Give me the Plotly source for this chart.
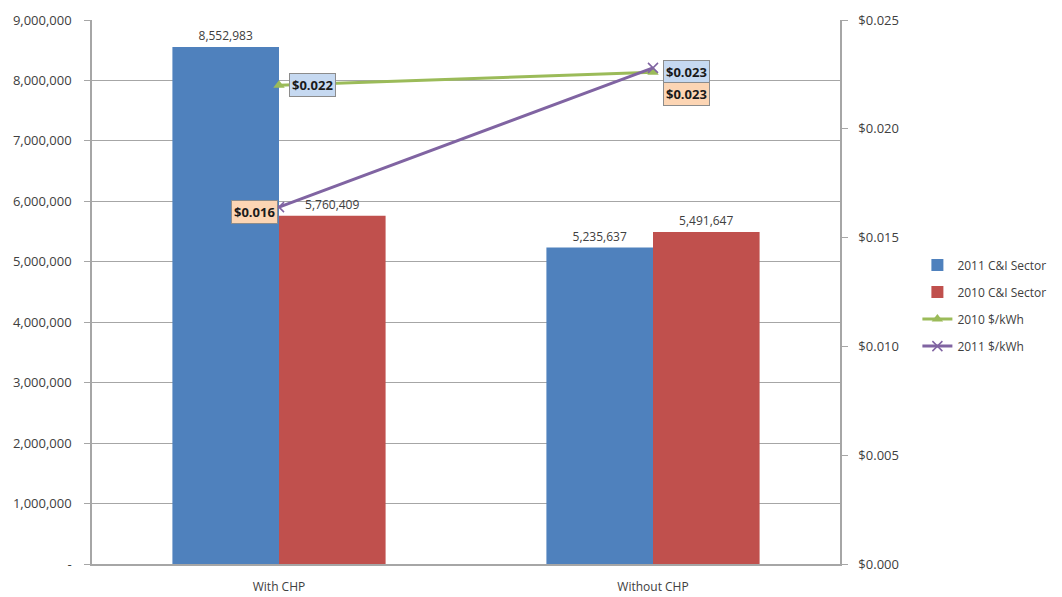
import plotly.graph_objects as go

categories = ["With CHP", "Without CHP"]
sector_2011 = [8552983, 5235637]
sector_2010 = [5760409, 5491647]
rate_2010 = [0.0220, 0.0226]
rate_2011 = [0.0164, 0.0228]

left_ticks = list(range(0, 9000001, 1000000))
left_ticktext = ["-"] + [f"{v:,}" for v in left_ticks[1:]]

FONT = "Open Sans"
TXT = "#404040"
GRID = "#a6a6a6"

fig = go.Figure()
fig.add_trace(go.Bar(
    x=categories, y=sector_2011, name="2011 C&I Sector",
    marker=dict(color="#4f81bd", line=dict(width=0)),
    texttemplate="%{y:,.0f}", textposition="outside",
    textfont=dict(family=FONT, size=12, color=TXT), cliponaxis=False,
    legendgroup="a",
))
fig.add_trace(go.Bar(
    x=categories, y=sector_2010, name="2010 C&I Sector",
    marker=dict(color="#c0504d", line=dict(width=0)),
    texttemplate="%{y:,.0f}", textposition="outside",
    textfont=dict(family=FONT, size=12, color=TXT), cliponaxis=False,
    legendgroup="b",
))
fig.add_trace(go.Scatter(
    x=categories, y=rate_2010, name="2010 $/kWh", yaxis="y2",
    mode="lines+markers",
    line=dict(color="#9bbb59", width=3),
    marker=dict(symbol="triangle-up", size=10, color="#9bbb59"),
    legendgroup="c",
))
fig.add_trace(go.Scatter(
    x=categories, y=rate_2011, name="2011 $/kWh", yaxis="y2",
    mode="lines+markers",
    line=dict(color="#8064a2", width=3),
    marker=dict(symbol="x-thin", size=10, color="#8064a2",
                line=dict(color="#8064a2", width=1.5)),
    legendgroup="d",
))

# Value boxes for the $/kWh series
label_style = [
    (rate_2010, "#c6d9f1", [("left", 10, 0), ("left", 10, 0)]),
    (rate_2011, "#fcd5b4", [("right", -1, -5), ("left", 10, -26)]),
]
for values, bg, placements in label_style:
    for cat, v, (anchor, dx, dy) in zip(categories, values, placements):
        fig.add_annotation(
            x=cat, y=v, yref="y2", xref="x",
            text=f"<b>${v:.3f}</b>", showarrow=False,
            xanchor=anchor, yanchor="middle", xshift=dx, yshift=dy,
            bgcolor=bg, bordercolor="#8c8c8c", borderwidth=1, borderpad=2,
            font=dict(family=FONT, size=13, color="#1a1a1a"),
        )

fig.update_layout(
    width=1062, height=597,
    margin=dict(l=92, r=221, t=20, b=33),
    paper_bgcolor="white", plot_bgcolor="white",
    barmode="group", bargap=0.43, bargroupgap=0,
    font=dict(family=FONT, size=12, color=TXT),
    showlegend=True,
    legend=dict(
        x=1.102, y=0.475, xanchor="left", yanchor="middle",
        font=dict(family=FONT, size=12, color=TXT),
        tracegroupgap=8, bgcolor="rgba(0,0,0,0)",
    ),
    xaxis=dict(
        showline=True, linecolor=GRID, linewidth=1.5,
        ticks="", ticklabelstandoff=11, automargin=False,
        tickfont=dict(family=FONT, size=12, color=TXT),
    ),
    yaxis=dict(
        range=[0, 9000000], tickvals=left_ticks, ticktext=left_ticktext,
        showgrid=True, gridcolor=GRID, gridwidth=1.2,
        showline=True, linecolor=GRID, linewidth=1.5,
        ticks="outside", ticklen=6, tickcolor=GRID,
        tickfont=dict(family=FONT, size=13, color=TXT),
        ticklabelstandoff=10, zeroline=False, automargin=False,
    ),
    yaxis2=dict(
        overlaying="y", side="right", range=[0, 0.025], dtick=0.005,
        tickprefix="$", tickformat=".3f", showgrid=False,
        showline=True, linecolor=GRID, linewidth=1.5,
        ticks="outside", ticklen=6, tickcolor=GRID,
        tickfont=dict(family=FONT, size=13, color=TXT),
        ticklabelstandoff=8, zeroline=False, automargin=False,
    ),
)

fig.write_html("out.html")
